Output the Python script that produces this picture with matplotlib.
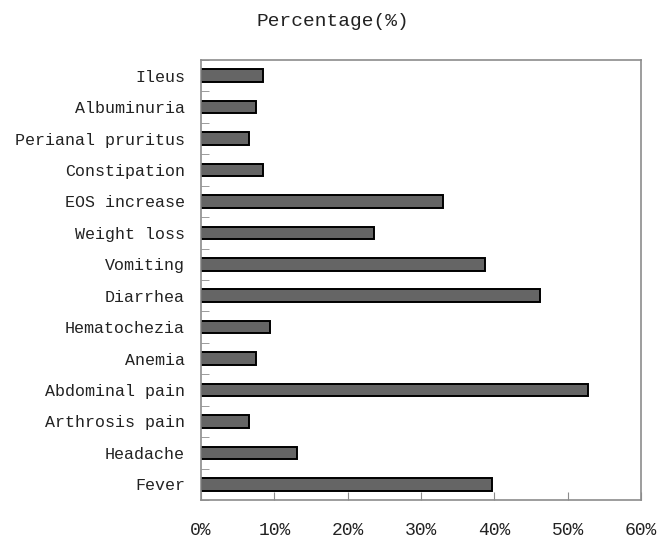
import matplotlib.pyplot as plt
import numpy as np
from matplotlib.ticker import FixedLocator, PercentFormatter

# symptoms, top to bottom as shown in the chart
symptoms = ['Ileus', 'Albuminuria', 'Perianal pruritus', 'Constipation',
            'EOS increase', 'Weight loss', 'Vomiting', 'Diarrhea',
            'Hematochezia', 'Anemia', 'Abdominal pain', 'Arthrosis pain',
            'Headache', 'Fever']
percent = [8.5, 7.5, 6.5, 8.5, 33.0, 23.6, 38.7, 46.2,
           9.4, 7.5, 52.8, 6.5, 13.1, 39.7]
x_ticks = [0, 10, 20, 30, 40, 50, 60]

plt.rcParams['font.family'] = ['Liberation Mono', 'DejaVu Sans Mono']
txt = '#222222'
gray = '#8c8c8c'

fig = plt.figure(figsize=(6.66, 5.4), dpi=100)
ax = fig.add_axes([201 / 666, 1 - 500 / 540, 440 / 666, 440 / 540])

# bottom-up positions so the first item sits on top
y = np.arange(len(symptoms))[::-1]
ax.barh(y, percent, height=0.4, color='#656565', edgecolor='black', linewidth=1.4)

ax.set_xlim(0, 60)
ax.set_ylim(-0.5, len(symptoms) - 0.5)
ax.set_xticks(x_ticks)
ax.xaxis.set_major_formatter(PercentFormatter(decimals=0))
ax.set_yticks(y)
ax.set_yticklabels(symptoms)
ax.yaxis.set_minor_locator(FixedLocator(np.arange(len(symptoms) + 1) - 0.5))

ax.tick_params(axis='x', direction='in', length=6, color=gray, pad=16,
               labelsize=13, labelcolor=txt)
ax.tick_params(axis='y', which='major', length=0, pad=11.5, labelsize=12,
               labelcolor=txt)
ax.tick_params(axis='y', which='minor', direction='in', length=6, color=gray)

for s in ax.spines.values():
    s.set_color(gray)
    s.set_linewidth(1.2)

fig.text(0.5, 1 - 21 / 540, 'Percentage(%)', ha='center', va='center',
         fontsize=14, color=txt)

fig.savefig('out.png', dpi=100)
